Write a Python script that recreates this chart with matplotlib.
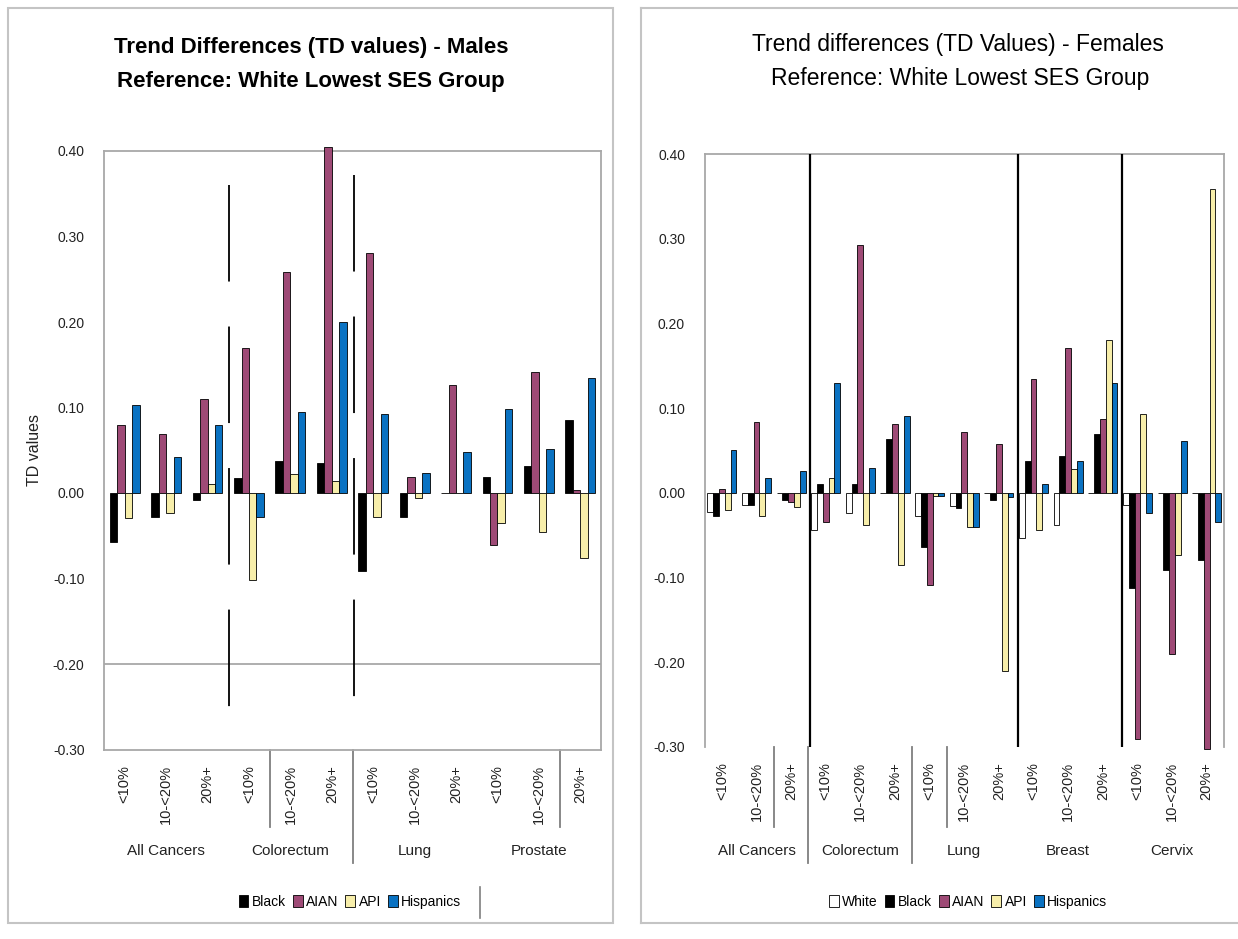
import matplotlib
matplotlib.use("Agg")
import matplotlib.pyplot as plt
from matplotlib.patches import Rectangle, Patch
from matplotlib.lines import Line2D
import numpy as np

plt.rcParams['font.family'] = ['Liberation Sans', 'DejaVu Sans']
plt.rcParams['lines.scale_dashes'] = False

# ---------------- data ----------------
ses_levels = ["<10%", "10-<20%", "20%+"]
male_sites = ["All Cancers", "Colorectum", "Lung", "Prostate"]
female_sites = ["All Cancers", "Colorectum", "Lung", "Breast", "Cervix"]

male_series = ["Black", "AIAN", "API", "Hispanics"]
male_black = [-0.057, -0.028, -0.008, 0.018, 0.037, 0.035, -0.091, -0.028, 0.000, 0.019, 0.032, 0.085]
male_aian = [0.080, 0.069, 0.110, 0.170, 0.258, 0.405, 0.281, 0.019, 0.126, -0.061, 0.142, 0.004]
male_api = [-0.029, -0.023, 0.010, -0.102, 0.022, 0.014, -0.028, -0.006, 0.000, -0.035, -0.046, -0.076]
male_hisp = [0.103, 0.042, 0.080, -0.028, 0.095, 0.200, 0.092, 0.023, 0.048, 0.098, 0.051, 0.134]

female_series = ["White", "Black", "AIAN", "API", "Hispanics"]
female_white = [-0.023, -0.015, 0.000, -0.044, -0.024, 0.000, -0.028, -0.016, 0.000, -0.054, -0.038, 0.000, -0.015, 0.000, 0.000]
female_black = [-0.028, -0.015, -0.009, 0.010, 0.010, 0.063, -0.064, -0.018, -0.009, 0.037, 0.043, 0.069, -0.112, -0.091, -0.080]
female_aian = [0.004, 0.084, -0.011, -0.035, 0.292, 0.081, -0.109, 0.072, 0.057, 0.134, 0.171, 0.087, -0.291, -0.191, -0.303]
female_api = [-0.020, -0.028, -0.017, 0.017, -0.038, -0.085, -0.004, -0.040, -0.211, -0.044, 0.028, 0.180, 0.093, -0.074, 0.359]
female_hisp = [0.051, 0.017, 0.026, 0.130, 0.029, 0.090, -0.004, -0.040, -0.005, 0.010, 0.037, 0.130, -0.024, 0.061, -0.035]

yticks = [-0.30, -0.20, -0.10, 0.00, 0.10, 0.20, 0.30, 0.40]

# ---------------- style ----------------
C_WHITE = "#FFFFFF"
C_BLACK = "#000000"
C_AIAN = "#9E4A76"
C_API = "#F7EEAA"
C_HISP = "#0A72C2"
SPINE = "#A8A8A8"
SEP = "#7F7F7F"

W, H = 1238, 939
fig = plt.figure(figsize=(W / 100, H / 100), dpi=100)

def fx(px):
    return px / W

def fy(py):
    return 1 - py / H

# panel borders
fig.patches.append(Rectangle((fx(8), fy(923)), fx(613) - fx(8), fy(8) - fy(923),
                             transform=fig.transFigure, fill=False, ec="#C4C4C4", lw=1.5))
fig.add_artist(Line2D([fx(641), fx(641)], [fy(923), fy(8)], color="#C4C4C4", lw=1.5))
fig.add_artist(Line2D([fx(641), fx(1238)], [fy(8), fy(8)], color="#C4C4C4", lw=1.5))
fig.add_artist(Line2D([fx(641), fx(1238)], [fy(923), fy(923)], color="#C4C4C4", lw=1.5))

def make_axes(l, r, t, b):
    return fig.add_axes([fx(l), fy(b), fx(r) - fx(l), fy(t) - fy(b)])

axL = make_axes(104, 601, 151, 749.5)
axR = make_axes(704.5, 1224, 154, 746.7)

def draw_bars(ax, series_vals, colors, width):
    n = len(series_vals)
    x = np.arange(len(series_vals[0]))
    for i, (vals, col) in enumerate(zip(series_vals, colors)):
        off = (i - (n - 1) / 2) * width
        bars = ax.bar(x + off, vals, width=width, color=col, edgecolor="black",
                      linewidth=0.6, zorder=3)
        for b in bars:
            b.set_clip_on(False)

def style_axes(ax, ncat, sites, pad, group_y, bottom_spine=True):
    ax.set_xlim(-0.5, ncat - 0.5)
    ax.set_ylim(-0.30, 0.40)
    ax.set_yticks(yticks)
    ax.set_yticklabels([f"{v:.2f}" for v in yticks], fontsize=10, color="#222222")
    ax.set_xticks(np.arange(ncat))
    ax.set_xticklabels(ses_levels * len(sites), rotation=90, fontsize=10.5, color="#222222")
    ax.tick_params(axis="both", length=0)
    ax.tick_params(axis="x", pad=pad)
    ax.tick_params(axis="y", pad=14)
    for s in ax.spines.values():
        s.set_color(SPINE)
        s.set_linewidth(1.3)
    ax.spines["bottom"].set_visible(bottom_spine)
    tr = ax.get_xaxis_transform()
    for gi, site in enumerate(sites):
        ax.text(gi * 3 + 1, group_y, site, transform=tr, ha="center", va="center",
                fontsize=11, color="#222222")

# ---------- left: males ----------
draw_bars(axL, [male_black, male_aian, male_api, male_hisp],
          [C_BLACK, C_AIAN, C_API, C_HISP], 0.18)
style_axes(axL, 12, male_sites, 11, (749.5 - 851) / 598.5)
axL.axhline(-0.20, color=SPINE, lw=1.3, zorder=1)
for xpos, ytop in [(2.52, 0.36), (5.53, 0.372)]:
    axL.plot([xpos, xpos], [ytop, -0.25], color="black", lw=1.3,
             dashes=(69.5, 32.4), zorder=4)
trL = axL.get_xaxis_transform()
for xpos, yb in [(3.5, (749.5 - 827) / 598.5), (5.5, (749.5 - 863) / 598.5),
                 (10.5, (749.5 - 827) / 598.5)]:
    axL.add_line(Line2D([xpos, xpos], [0, yb], transform=trL, color=SEP, lw=1.3, clip_on=False))
axL.set_ylabel("TD values", fontsize=11.5, color="#222222")
axL.yaxis.set_label_coords((42 - 104) / 497, 0.5)

# ---------- right: females ----------
draw_bars(axR, [female_white, female_black, female_aian, female_api, female_hisp],
          [C_WHITE, C_BLACK, C_AIAN, C_API, C_HISP], 0.168)
style_axes(axR, 15, female_sites, 11, (746.7 - 851) / 592.7, bottom_spine=False)
for xpos in [2.55, 8.55, 11.55]:
    axR.axvline(xpos, color="black", lw=1.6, zorder=4)
trR = axR.get_xaxis_transform()
for xpos, yb in [(1.5, (746.7 - 827) / 592.7), (2.5, (746.7 - 863) / 592.7),
                 (5.5, (746.7 - 863) / 592.7), (6.5, (746.7 - 827) / 592.7)]:
    axR.add_line(Line2D([xpos, xpos], [0, yb], transform=trR, color=SEP, lw=1.3, clip_on=False))

# ---------- titles ----------
fig.text(fx(311), fy(48), "Trend Differences (TD values) - Males", ha="center", va="center",
         fontsize=16, fontweight="bold")
fig.text(fx(311), fy(82), "Reference: White Lowest SES Group", ha="center", va="center",
         fontsize=16, fontweight="bold")
fig.text(fx(958), fy(45), "Trend differences (TD Values) - Females", ha="center", va="center",
         fontsize=16.5)
fig.text(fx(960), fy(78), "Reference: White Lowest SES Group", ha="center", va="center",
         fontsize=16.5)

# ---------- legends ----------
def handles(names, colors):
    return [Patch(facecolor=c, edgecolor="black", linewidth=0.6, label=n) for n, c in zip(names, colors)]

fig.legend(handles=handles(male_series, [C_BLACK, C_AIAN, C_API, C_HISP]),
           loc="center", bbox_to_anchor=(fx(350), fy(902)), ncol=4, frameon=False,
           fontsize=10, handlelength=0.7, handleheight=0.9, handletextpad=0.25,
           columnspacing=0.5)
fig.add_artist(Line2D([fx(480), fx(480)], [fy(887), fy(918)], color=SEP, lw=1.2))
fig.legend(handles=handles(female_series, [C_WHITE, C_BLACK, C_AIAN, C_API, C_HISP]),
           loc="center", bbox_to_anchor=(fx(968), fy(902)), ncol=5, frameon=False,
           fontsize=10, handlelength=0.7, handleheight=0.9, handletextpad=0.25,
           columnspacing=0.5)

fig.savefig("out.png", dpi=100)
